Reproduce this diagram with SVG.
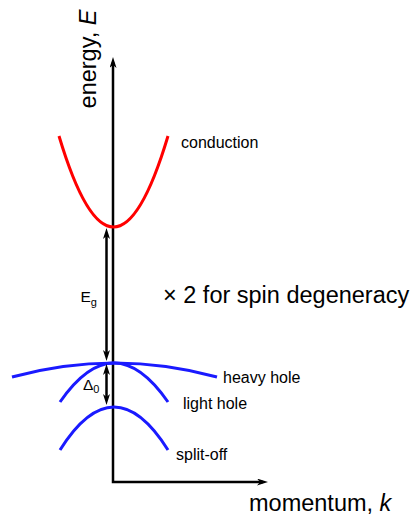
<svg xmlns="http://www.w3.org/2000/svg" width="412" height="518" viewBox="0 0 412 518">
  <style>
    text { font-family: "Liberation Sans", Arial, sans-serif; fill: #000; }
    .big { font-size: 23.5px; }
    .small { font-size: 16px; }
    .sym { font-size: 15.5px; }
    .sub { font-size: 11px; }
    .band { fill: none; stroke-width: 3; stroke-linecap: butt; }
    .cb { stroke: #ff0000; }
    .vb { stroke: #1a1aff; }
    .axis { fill: none; stroke: #000; stroke-width: 2.5; stroke-linejoin: miter; }
    .dim { fill: none; stroke: #000; stroke-width: 2.5; }
  </style>
  <defs>
    <marker id="arrow" viewBox="0 0 11 7" refX="6" refY="3.5" markerWidth="11" markerHeight="7" markerUnits="userSpaceOnUse" orient="auto-start-reverse">
      <path d="M0,0 L11,3.5 L0,7 L3,3.5 Z" fill="#000"/>
    </marker>
  </defs>

  <g id="axes">
    <path class="axis" d="M113,62 L113,482 L263,482" marker-start="url(#arrow)" marker-end="url(#arrow)"/>
    <text class="big" transform="translate(96,59) rotate(-90)" text-anchor="middle">energy, <tspan font-style="italic">E</tspan></text>
    <text class="big" x="249" y="511">momentum, <tspan font-style="italic">k</tspan></text>
  </g>

  <g id="conduction">
    <path class="band cb" d="M59,136 Q113.5,318 168,136"/>
    <text class="small" x="181" y="148">conduction</text>
  </g>

  <g id="heavy-hole">
    <path class="band vb" d="M12,377 Q114.5,349 217,377"/>
    <text class="small" x="223" y="383">heavy hole</text>
  </g>

  <g id="light-hole">
    <path class="band vb" d="M60,402 Q114,324 168,402"/>
    <text class="small" x="183" y="409">light hole</text>
  </g>

  <g id="split-off">
    <path class="band vb" d="M60,450 Q114,364 168,450"/>
    <text class="small" x="176" y="460">split-off</text>
  </g>

  <g id="spin-note">
    <text class="big" x="163" y="303">× 2 for spin degeneracy</text>
  </g>

  <g id="connectors">
    <line class="dim" x1="106.5" y1="233" x2="106.5" y2="356" marker-start="url(#arrow)" marker-end="url(#arrow)"/>
    <line class="dim" x1="106.5" y1="369" x2="106.5" y2="400" marker-start="url(#arrow)" marker-end="url(#arrow)"/>
  </g>

  <g id="eg-label">
    <text class="sym" x="80.5" y="302">E<tspan class="sub" dy="4">g</tspan></text>
  </g>
  <g id="delta-label">
    <text class="sym" x="83" y="390">Δ<tspan class="sub" dy="3">0</tspan></text>
  </g>
</svg>
